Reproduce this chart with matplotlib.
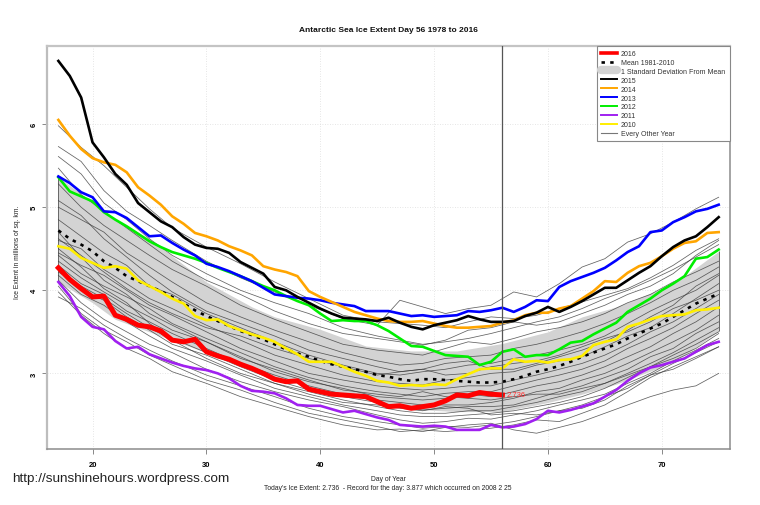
import matplotlib
matplotlib.use("Agg")
from matplotlib import pyplot as plt
from matplotlib.lines import Line2D

plt.rcParams["font.family"] = ["Liberation Sans", "DejaVu Sans"]

days = list(range(17, 76))
days_2016 = list(range(17, 57))

ice_2016 = [4.27, 4.13, 4.02, 3.92, 3.93, 3.70, 3.65, 3.58, 3.56, 3.51, 3.40, 3.38, 3.41, 3.26, 3.21, 3.17, 3.11, 3.06, 3.00, 2.93,
            2.90, 2.91, 2.81, 2.78, 2.75, 2.74, 2.73, 2.72, 2.66, 2.60, 2.61, 2.58, 2.60, 2.62, 2.67, 2.74, 2.73, 2.77, 2.75, 2.74]
ice_2015 = [6.76, 6.58, 6.32, 5.78, 5.60, 5.40, 5.27, 5.05, 4.94, 4.83, 4.76, 4.64, 4.55, 4.51, 4.50, 4.45, 4.34, 4.27, 4.20, 4.04,
            4.00, 3.92, 3.85, 3.78, 3.72, 3.67, 3.66, 3.65, 3.63, 3.67, 3.61, 3.56, 3.53, 3.58, 3.61, 3.64, 3.69, 3.65, 3.62, 3.62,
            3.63, 3.69, 3.73, 3.80, 3.74, 3.80, 3.87, 3.95, 4.03, 4.03, 4.12, 4.21, 4.29, 4.41, 4.52, 4.60, 4.65, 4.76, 4.88]
ice_2014 = [6.05, 5.86, 5.70, 5.59, 5.54, 5.51, 5.42, 5.24, 5.14, 5.03, 4.89, 4.80, 4.69, 4.65, 4.60, 4.53, 4.48, 4.42, 4.29, 4.25,
            4.22, 4.17, 3.99, 3.92, 3.86, 3.80, 3.74, 3.70, 3.66, 3.63, 3.62, 3.62, 3.63, 3.60, 3.57, 3.55, 3.55, 3.56, 3.57, 3.61,
            3.64, 3.70, 3.73, 3.73, 3.78, 3.81, 3.90, 3.99, 4.11, 4.10, 4.21, 4.29, 4.33, 4.41, 4.50, 4.57, 4.59, 4.69, 4.70]
ice_2013 = [5.37, 5.29, 5.18, 5.12, 4.95, 4.94, 4.87, 4.76, 4.65, 4.66, 4.57, 4.49, 4.42, 4.32, 4.28, 4.23, 4.17, 4.11, 4.03, 3.95,
            3.93, 3.91, 3.90, 3.88, 3.85, 3.83, 3.81, 3.75, 3.75, 3.75, 3.72, 3.69, 3.70, 3.68, 3.69, 3.70, 3.75, 3.74, 3.76, 3.79,
            3.74, 3.80, 3.88, 3.87, 4.04, 4.11, 4.16, 4.21, 4.27, 4.36, 4.46, 4.53, 4.70, 4.72, 4.82, 4.88, 4.95, 4.98, 5.03]
ice_2012 = [5.36, 5.19, 5.13, 5.07, 4.94, 4.85, 4.77, 4.68, 4.59, 4.52, 4.46, 4.42, 4.38, 4.33, 4.27, 4.22, 4.17, 4.11, 4.05, 4.00,
            3.93, 3.87, 3.82, 3.72, 3.63, 3.64, 3.63, 3.63, 3.58, 3.51, 3.42, 3.33, 3.32, 3.27, 3.22, 3.21, 3.20, 3.10, 3.14, 3.26,
            3.29, 3.20, 3.22, 3.22, 3.29, 3.37, 3.39, 3.47, 3.54, 3.61, 3.74, 3.82, 3.90, 4.00, 4.08, 4.17, 4.38, 4.40, 4.49]
ice_2011 = [4.10, 3.93, 3.68, 3.56, 3.53, 3.39, 3.30, 3.32, 3.23, 3.18, 3.13, 3.09, 3.06, 3.04, 3.00, 2.94, 2.85, 2.79, 2.78, 2.76,
            2.70, 2.62, 2.61, 2.61, 2.57, 2.53, 2.55, 2.51, 2.47, 2.44, 2.38, 2.37, 2.36, 2.37, 2.36, 2.32, 2.32, 2.32, 2.38, 2.35,
            2.36, 2.39, 2.45, 2.55, 2.53, 2.56, 2.60, 2.64, 2.72, 2.80, 2.91, 3.00, 3.07, 3.10, 3.14, 3.18, 3.26, 3.34, 3.38]
ice_2010 = [4.53, 4.50, 4.39, 4.33, 4.27, 4.29, 4.26, 4.12, 4.05, 3.98, 3.90, 3.84, 3.69, 3.64, 3.65, 3.57, 3.52, 3.47, 3.43, 3.38,
            3.30, 3.23, 3.14, 3.14, 3.14, 3.08, 3.02, 2.97, 2.91, 2.89, 2.85, 2.86, 2.85, 2.87, 2.86, 2.93, 2.99, 3.05, 3.06, 3.06,
            3.17, 3.14, 3.15, 3.13, 3.16, 3.17, 3.21, 3.34, 3.38, 3.41, 3.56, 3.60, 3.65, 3.69, 3.70, 3.71, 3.76, 3.77, 3.79]
mean_ice = [4.72, 4.62, 4.55, 4.47, 4.35, 4.27, 4.17, 4.11, 4.05, 3.99, 3.92, 3.84, 3.76, 3.69, 3.63, 3.57, 3.51, 3.46, 3.41, 3.35,
            3.29, 3.24, 3.20, 3.15, 3.11, 3.08, 3.05, 3.02, 2.98, 2.96, 2.93, 2.91, 2.93, 2.93, 2.92, 2.91, 2.90, 2.89, 2.89, 2.90,
            2.93, 2.97, 3.02, 3.05, 3.09, 3.14, 3.20, 3.25, 3.30, 3.35, 3.42, 3.48, 3.54, 3.60, 3.68, 3.76, 3.84, 3.90, 3.96]

band_days = [17, 20, 22, 25, 30, 34, 36, 40, 44, 48, 52, 56, 60, 63, 66, 70, 72, 75]
band_upper = [5.36, 5.06, 4.85, 4.62, 4.10, 3.80, 3.68, 3.53, 3.33, 3.27, 3.27, 3.36, 3.50, 3.68, 3.80, 4.02, 4.17, 4.47]
band_lower = [4.10, 3.85, 3.65, 3.50, 3.25, 3.05, 2.96, 2.79, 2.69, 2.57, 2.54, 2.54, 2.65, 2.75, 2.87, 3.08, 3.22, 3.51]

thin_days = [17, 19, 21, 23, 25, 27, 30, 33, 36, 39, 42, 45, 47, 49, 51, 53, 55, 57, 59, 61, 63, 65, 67, 69, 71, 73, 75]
thin_01 = [5.98, 5.72, 5.50, 5.24, 4.98, 4.75, 4.52, 4.32, 4.10, 3.90, 3.70, 3.62, 3.60, 3.58, 3.55, 3.62, 3.68, 3.66, 3.70, 3.78, 3.86, 3.94, 4.02, 4.15, 4.30, 4.48, 4.62]
thin_02 = [5.73, 5.55, 5.20, 4.95, 4.78, 4.60, 4.35, 4.15, 3.98, 3.82, 3.66, 3.58, 3.88, 3.80, 3.72, 3.78, 3.82, 3.98, 3.92, 4.08, 4.28, 4.38, 4.58, 4.68, 4.82, 4.98, 5.12]
thin_03 = [5.61, 5.40, 5.05, 4.85, 4.62, 4.42, 4.20, 4.00, 3.85, 3.72, 3.55, 3.45, 3.40, 3.35, 3.38, 3.42, 3.48, 3.55, 3.62, 3.68, 3.78, 3.90, 4.00, 4.12, 4.25, 4.40, 4.55]
thin_04 = [5.47, 5.15, 4.95, 4.75, 4.55, 4.35, 4.12, 3.95, 3.75, 3.60, 3.48, 3.42, 3.38, 3.34, 3.40, 3.52, 3.55, 3.62, 3.58, 3.62, 3.72, 3.82, 3.95, 4.05, 4.20, 4.42, 4.60]
thin_05 = [5.28, 5.00, 4.78, 4.60, 4.42, 4.25, 4.05, 3.82, 3.65, 3.50, 3.35, 3.28, 3.25, 3.22, 3.30, 3.38, 3.35, 3.42, 3.50, 3.55, 3.62, 3.72, 3.85, 3.95, 4.10, 4.22, 4.35]
thin_06 = [5.00, 4.85, 4.70, 4.45, 4.28, 4.10, 3.85, 3.68, 3.52, 3.38, 3.25, 3.15, 3.10, 3.12, 3.18, 3.20, 3.22, 3.30, 3.35, 3.42, 3.50, 3.60, 3.72, 3.85, 4.00, 4.12, 4.28]
thin_07 = [4.85, 4.65, 4.45, 4.30, 4.05, 3.95, 3.72, 3.55, 3.38, 3.22, 3.10, 3.00, 2.98, 3.02, 3.05, 3.10, 3.12, 3.18, 3.22, 3.28, 3.35, 3.45, 3.60, 3.75, 3.88, 4.00, 4.18]
thin_08 = [4.60, 4.50, 4.25, 4.08, 3.90, 3.78, 3.58, 3.40, 3.22, 3.10, 2.98, 2.90, 2.88, 2.86, 2.92, 2.95, 3.00, 3.02, 3.10, 3.15, 3.20, 3.32, 3.45, 3.55, 3.72, 3.90, 4.08]
thin_09 = [4.45, 4.30, 4.18, 4.00, 3.82, 3.70, 3.50, 3.30, 3.15, 3.00, 2.92, 2.85, 2.82, 2.80, 2.82, 2.85, 2.85, 2.92, 2.98, 3.05, 3.12, 3.22, 3.35, 3.50, 3.62, 3.78, 3.95]
thin_10 = [4.42, 4.20, 4.05, 3.92, 3.78, 3.60, 3.42, 3.25, 3.08, 2.95, 2.85, 2.78, 2.75, 2.72, 2.76, 2.78, 2.78, 2.85, 2.92, 2.98, 3.05, 3.15, 3.30, 3.42, 3.55, 3.72, 3.88]
thin_11 = [4.35, 4.15, 3.98, 3.82, 3.68, 3.52, 3.38, 3.20, 3.02, 2.90, 2.82, 2.72, 2.70, 2.68, 2.70, 2.75, 2.72, 2.78, 2.85, 2.90, 2.98, 3.08, 3.20, 3.32, 3.48, 3.62, 3.80]
thin_12 = [4.30, 4.08, 3.95, 3.75, 3.62, 3.48, 3.30, 3.12, 2.98, 2.85, 2.75, 2.68, 2.65, 2.62, 2.62, 2.62, 2.65, 2.70, 2.78, 2.82, 2.92, 3.00, 3.12, 3.25, 3.38, 3.52, 3.70]
thin_13 = [4.50, 4.28, 4.02, 3.85, 3.60, 3.42, 3.25, 3.08, 2.92, 2.80, 2.72, 2.65, 2.60, 2.56, 2.58, 2.60, 2.60, 2.62, 2.70, 2.78, 2.85, 2.95, 3.05, 3.20, 3.30, 3.48, 3.62]
thin_14 = [4.22, 4.05, 3.90, 3.72, 3.55, 3.40, 3.18, 3.00, 2.88, 2.78, 2.68, 2.60, 2.55, 2.52, 2.52, 2.55, 2.55, 2.60, 2.65, 2.72, 2.78, 2.88, 3.00, 3.12, 3.25, 3.40, 3.55]
thin_15 = [4.18, 3.95, 3.82, 3.62, 3.45, 3.30, 3.15, 2.98, 2.82, 2.72, 2.62, 2.55, 2.50, 2.48, 2.48, 2.50, 2.52, 2.55, 2.60, 2.65, 2.72, 2.82, 2.95, 3.08, 3.22, 3.35, 3.50]
thin_16 = [4.12, 3.85, 3.65, 3.50, 3.35, 3.25, 3.05, 2.90, 2.78, 2.68, 2.60, 2.50, 2.44, 2.40, 2.42, 2.46, 2.45, 2.50, 2.55, 2.62, 2.68, 2.75, 2.88, 3.00, 3.15, 3.28, 3.42]
thin_17 = [3.92, 3.78, 3.58, 3.42, 3.28, 3.15, 2.98, 2.85, 2.72, 2.58, 2.48, 2.42, 2.38, 2.34, 2.36, 2.35, 2.38, 2.42, 2.48, 2.55, 2.62, 2.72, 2.82, 2.98, 3.12, 3.25, 3.38]
thin_18 = [4.05, 3.72, 3.52, 3.38, 3.22, 3.10, 2.92, 2.80, 2.65, 2.52, 2.44, 2.36, 2.30, 2.32, 2.30, 2.32, 2.34, 2.38, 2.44, 2.42, 2.52, 2.62, 2.78, 2.95, 3.08, 3.20, 3.32]
thin_19 = [3.98, 3.70, 3.48, 3.30, 3.18, 3.02, 2.88, 2.72, 2.60, 2.48, 2.38, 2.32, 2.33, 2.30, 2.35, 2.38, 2.40, 2.32, 2.28, 2.35, 2.42, 2.52, 2.62, 2.72, 2.80, 2.85, 3.00]
thin_20 = [4.62, 4.42, 4.22, 4.02, 3.85, 3.72, 3.55, 3.45, 3.30, 3.18, 3.08, 2.98, 3.02, 3.05, 2.98, 3.00, 3.08, 3.12, 3.15, 3.22, 3.32, 3.42, 3.50, 3.62, 3.78, 3.88, 4.00]
thin_21 = [5.08, 4.90, 4.62, 4.40, 4.18, 3.98, 3.75, 3.60, 3.45, 3.28, 3.18, 3.08, 3.02, 3.05, 3.12, 3.15, 3.05, 3.05, 3.12, 3.20, 3.28, 3.38, 3.52, 3.68, 3.82, 4.05, 4.20]
thin_22 = [4.70, 4.40, 4.12, 3.95, 3.72, 3.58, 3.38, 3.18, 3.05, 2.92, 2.80, 2.75, 2.72, 2.78, 2.72, 2.70, 2.68, 2.72, 2.75, 2.75, 2.82, 2.88, 2.98, 3.08, 3.18, 3.30, 3.48]
thin_23 = [4.25, 4.00, 3.88, 3.68, 3.52, 3.35, 3.22, 3.05, 2.88, 2.75, 2.65, 2.62, 2.58, 2.55, 2.60, 2.58, 2.50, 2.52, 2.50, 2.55, 2.58, 2.68, 2.85, 2.98, 3.05, 3.18, 3.32]

other_years = [thin_01, thin_02, thin_03, thin_04, thin_05, thin_06, thin_07, thin_08, thin_09, thin_10, thin_11, thin_12,
               thin_13, thin_14, thin_15, thin_16, thin_17, thin_18, thin_19, thin_20, thin_21, thin_22, thin_23]

W, H = 760, 506
fig = plt.figure(figsize=(W / 100, H / 100), dpi=100)
ax = fig.add_axes([47 / W, 1 - 450 / H, (729.5 - 47) / W, (450 - 47) / H])
ax.set_xlim(16.0, 75.95)
ax.set_ylim(2.09, 6.94)

for x in [20, 30, 40, 50, 60, 70]:
    ax.axvline(x, color="#dddddd", lw=0.6, ls=(0, (1, 2)), zorder=0)
for y in [3, 4, 5, 6]:
    ax.axhline(y, color="#dddddd", lw=0.6, ls=(0, (1, 2)), zorder=0)

ax.fill_between(band_days, band_lower, band_upper, color="#d3d3d3", lw=0, zorder=1)
ax.vlines([band_days[0], band_days[-1]], [band_lower[0], band_lower[-1]], [band_upper[0], band_upper[-1]],
          color="#666666", lw=0.7, zorder=1.5)

for values in other_years:
    ax.plot(thin_days, values, color="#3a3a3a", lw=0.55, alpha=0.8, zorder=2)

ax.plot(days, mean_ice, color="black", lw=1.9, ls=(0, (1.3, 2.0)), zorder=3)
ax.plot(days, ice_2010, color="#ffee00", lw=1.9, zorder=3)
ax.plot(days, ice_2011, color="#a020f0", lw=1.9, zorder=3)
ax.plot(days, ice_2012, color="#00ee00", lw=1.9, zorder=3)
ax.plot(days, ice_2013, color="#0000ff", lw=1.9, zorder=3)
ax.plot(days, ice_2014, color="#ffa500", lw=1.9, zorder=3)
ax.plot(days, ice_2015, color="black", lw=1.9, zorder=3)
ax.plot(days_2016, ice_2016, color="#ff0000", lw=3.6, zorder=4)

ax.axvline(56, color="#555555", lw=0.9, zorder=5)
ax.text(56.4, ice_2016[-1], "2.736", color="#ff3030", fontsize=5.5, va="center", zorder=6)

ax.set_xticks([20, 30, 40, 50, 60, 70])
ax.set_yticks([3, 4, 5, 6])
ax.tick_params(axis="both", length=3.5, width=0.7, color="#888888", labelsize=5.5)
ax.tick_params(axis="x", pad=5)
ax.tick_params(axis="y", pad=3)
for label in ax.get_xticklabels():
    label.set_fontweight("bold")
for label in ax.get_yticklabels():
    label.set_fontweight("bold")
    label.set_rotation(90)
    label.set_va("center")

ax.spines["left"].set(color="#bdbdbd", lw=1.6)
ax.spines["top"].set(color="#c4c4c4", lw=1.6)
ax.spines["bottom"].set(color="#8c8c8c", lw=1.1)
ax.spines["right"].set(color="#8c8c8c", lw=1.1)

handles = [
    Line2D([], [], color="#ff0000", lw=2.6),
    Line2D([], [], color="black", lw=1.9, ls=(0, (1.3, 2.0))),
    Line2D([], [], color="#d3d3d3", lw=6, solid_capstyle="round"),
    Line2D([], [], color="black", lw=1.4),
    Line2D([], [], color="#ffa500", lw=1.4),
    Line2D([], [], color="#0000ff", lw=1.4),
    Line2D([], [], color="#00ee00", lw=1.4),
    Line2D([], [], color="#a020f0", lw=1.4),
    Line2D([], [], color="#ffee00", lw=1.4),
    Line2D([], [], color="#777777", lw=0.8),
]
names = ["2016", "Mean 1981-2010", "1 Standard Deviation From Mean", "2015", "2014", "2013", "2012", "2011", "2010", "Every Other Year"]
leg = ax.legend(handles, names, loc="upper right", bbox_to_anchor=(1.0, 1.0), borderaxespad=0, fontsize=5,
                labelspacing=0.27, handlelength=2.3, handletextpad=0.6, borderpad=0.6, fancybox=False,
                framealpha=1, edgecolor="#888888", labelcolor="#333333")
leg.get_frame().set_linewidth(0.8)
leg.set_zorder(10)

fig.text(388 / W, 1 - 31 / H, "Antarctic Sea Ice Extent Day 56 1978 to 2016", fontsize=6, fontweight="bold",
         ha="center", va="center", color="#111111")
fig.text(18 / W, 1 - 252 / H, "Ice Extent in millions of sq. km.", fontsize=4.9, rotation=90, ha="center", va="center", color="#222222")
fig.text(388 / W, 1 - 480 / H, "Day of Year", fontsize=4.9, ha="center", va="center", color="#222222")
fig.text(388 / W, 1 - 489 / H, "Today's Ice Extent: 2.736  - Record for the day: 3.877 which occurred on 2008 2 25",
         fontsize=4.9, ha="center", va="center", color="#222222")
fig.text(12 / W, 1 - 479 / H, "http://sunshinehours.wordpress.com", fontsize=9.7, ha="left", va="center", color="#222222")

fig.savefig("out.png", dpi=100)
